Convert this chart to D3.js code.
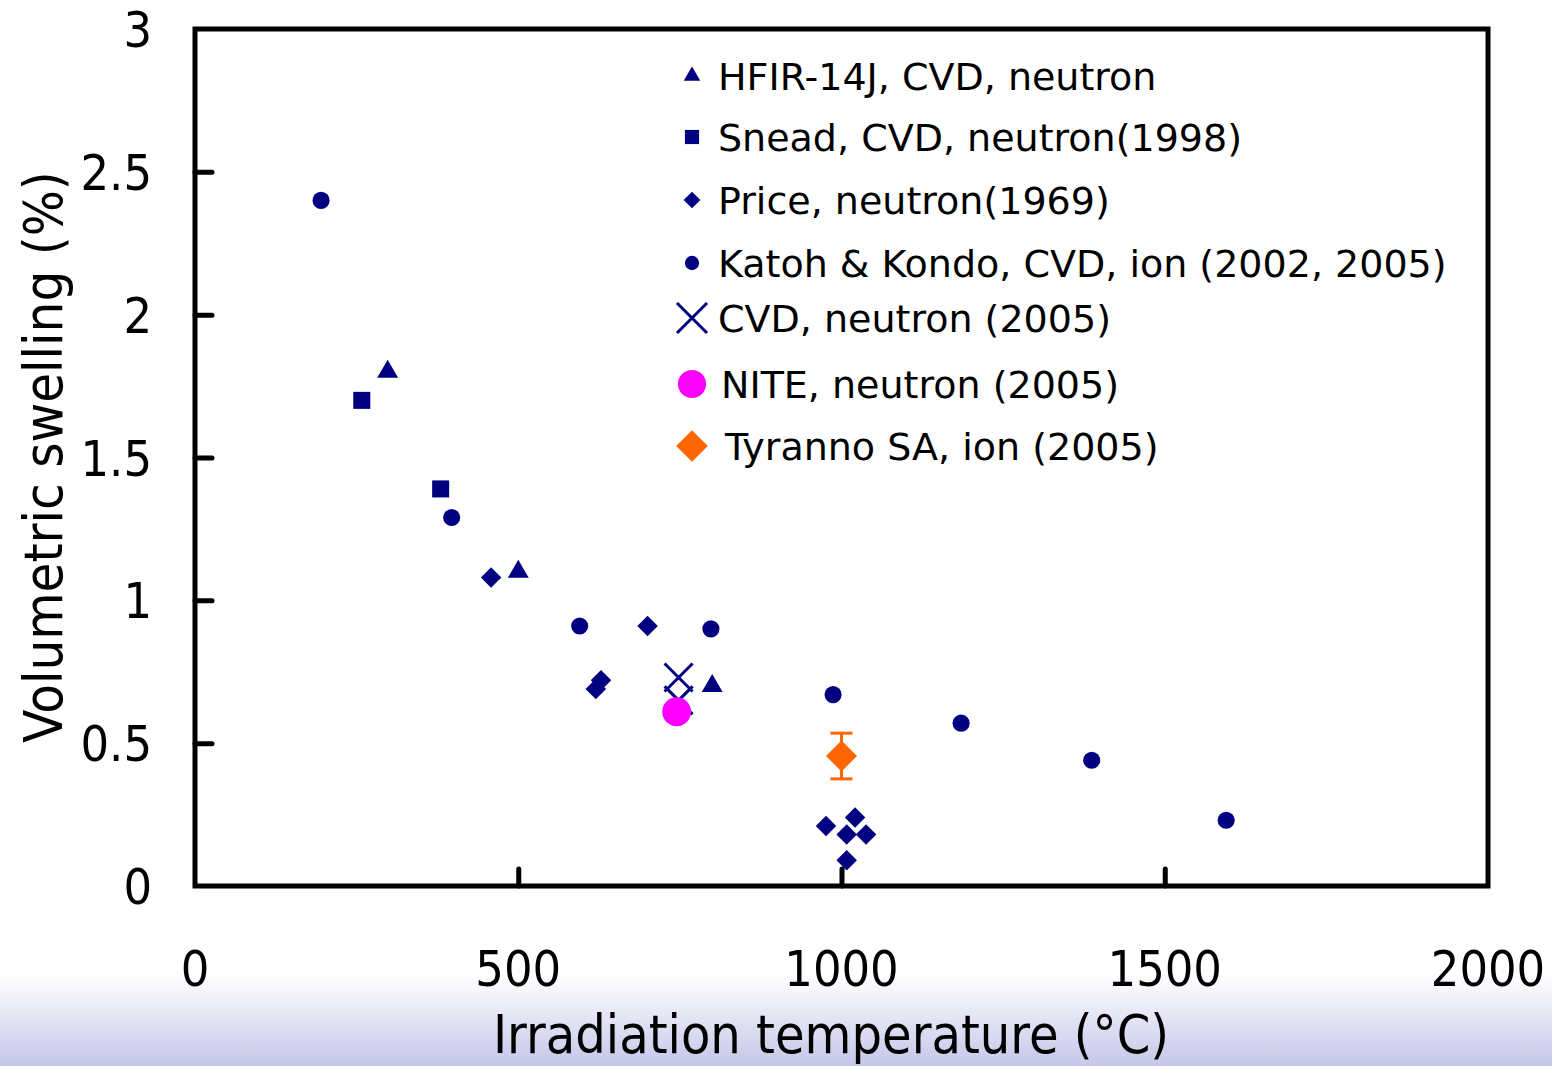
<!DOCTYPE html>
<html>
<head>
<meta charset="utf-8">
<script src="https://cdn.jsdelivr.net/npm/d3@7"></script>
<style>
  html, body { margin: 0; padding: 0; background: #fff; }
  svg text { font-family: "DejaVu Sans Condensed", "DejaVu Sans", sans-serif; fill: #000; }
  svg text.legend { font-family: "DejaVu Sans", sans-serif; }
</style>
</head>
<body>
<svg id="chart" width="1552" height="1066"></svg>
<script>
// data: [temperature (°C), swelling (%)]
const hfir = [[298, 1.80], [500, 1.10], [800, 0.70]];
const snead = [[258, 1.70], [380, 1.39]];
const price = [[458, 1.08], [620, 0.69], [628, 0.72], [700, 0.91],
               [976, 0.21], [1021, 0.24], [1008, 0.18], [1038, 0.18], [1008, 0.09]];
const katoh = [[195, 2.40], [397, 1.29], [595, 0.91], [798, 0.90], [987, 0.67],
               [1185, 0.57], [1387, 0.44], [1595, 0.23]];
const cvd2005 = [[748, 0.73], [748, 0.65]];
const nite = [[745, 0.61]];
const tyranno = [[1000, 0.455]];
const tyrannoErr = [0.08];

const xTicks = [0, 500, 1000, 1500, 2000];
const yTicks = [0, 0.5, 1, 1.5, 2, 2.5, 3];
const legendLabels = [
  "HFIR-14J, CVD, neutron",
  "Snead, CVD, neutron(1998)",
  "Price, neutron(1969)",
  "Katoh & Kondo, CVD, ion (2002, 2005)",
  "CVD, neutron (2005)",
  "NITE, neutron (2005)",
  "Tyranno SA, ion (2005)"
];

const navy = "#000080";
const svg = d3.select("#chart");

// soft lavender band at the bottom of the slide
const defs = svg.append("defs");
const grad = defs.append("linearGradient").attr("id", "bg").attr("x1", 0).attr("y1", 0).attr("x2", 0).attr("y2", 1);
grad.append("stop").attr("offset", "0%").attr("stop-color", "#ffffff");
grad.append("stop").attr("offset", "100%").attr("stop-color", "#c6c6e9");
svg.append("rect").attr("x", 0).attr("y", 975).attr("width", 1552).attr("height", 91).attr("fill", "url(#bg)");

const x = d3.scaleLinear().domain([0, 2000]).range([195, 1488]);
const y = d3.scaleLinear().domain([0, 3]).range([886, 29]);

// ticks pointing inward
svg.append("g")
  .attr("transform", `translate(0,${y(0)})`)
  .call(d3.axisTop(x).tickValues(xTicks.slice(1, -1)).tickSize(17).tickFormat(""))
  .call(g => g.select(".domain").remove())
  .call(g => g.selectAll("line").attr("stroke", "#000").attr("stroke-width", 5).attr("stroke-linecap", "round"));

svg.append("g")
  .attr("transform", `translate(${x(0)},0)`)
  .call(d3.axisRight(y).tickValues(yTicks.slice(1, -1)).tickSize(17).tickFormat(""))
  .call(g => g.select(".domain").remove())
  .call(g => g.selectAll("line").attr("stroke", "#000").attr("stroke-width", 5).attr("stroke-linecap", "round"));

// plot frame
svg.append("rect")
  .attr("x", x(0)).attr("y", y(3))
  .attr("width", x(2000) - x(0)).attr("height", y(0) - y(3))
  .attr("fill", "none").attr("stroke", "#000").attr("stroke-width", 5);

// tick labels
svg.append("g").selectAll("text")
  .data(xTicks).enter().append("text")
  .attr("x", d => x(d)).attr("y", 986)
  .attr("text-anchor", "middle")
  .style("font-size", "50px")
  .text(d => d);

svg.append("g").selectAll("text")
  .data(yTicks).enter().append("text")
  .attr("x", 152).attr("y", d => y(d) + 18)
  .attr("text-anchor", "end")
  .style("font-size", "50px")
  .text(d => d);

// axis titles
svg.append("text")
  .attr("x", 831).attr("y", 1053)
  .attr("text-anchor", "middle")
  .style("font-size", "53.5px")
  .text("Irradiation temperature (°C)");

svg.append("text")
  .attr("transform", "translate(62,457) rotate(-90)")
  .attr("text-anchor", "middle")
  .style("font-size", "54px")
  .text("Volumetric swelling (%)");

// markers
const sym = (type, size) => d3.symbol().type(type).size(size)();

function drawSeries(data, type, size, color, rotate) {
  svg.append("g").selectAll("path")
    .data(data).enter().append("path")
    .attr("d", sym(type, size))
    .attr("transform", d => `translate(${x(d[0])},${y(d[1])})` + (rotate ? " rotate(45)" : ""))
    .attr("fill", color);
}

drawSeries(hfir, d3.symbolTriangle, 190, navy);
drawSeries(snead, d3.symbolSquare, 290, navy);
drawSeries(price, d3.symbolSquare, 210, navy, true);
drawSeries(katoh, d3.symbolCircle, 230, navy);

// X markers
svg.append("g").selectAll("path")
  .data(cvd2005).enter().append("path")
  .attr("d", "M-14,-14L14,14M-14,14L14,-14")
  .attr("transform", d => `translate(${x(d[0])},${y(d[1])})`)
  .attr("stroke", navy).attr("stroke-width", 3).attr("fill", "none");

drawSeries(nite, d3.symbolCircle, 650, "#ff00ff");

// Tyranno error bars
const eb = svg.append("g").attr("stroke", "#ff6600").attr("stroke-width", 3);
tyranno.forEach((d, i) => {
  const e = tyrannoErr[i];
  eb.append("line").attr("x1", x(d[0])).attr("x2", x(d[0])).attr("y1", y(d[1] + e)).attr("y2", y(d[1] - e));
  eb.append("line").attr("x1", x(d[0]) - 11).attr("x2", x(d[0]) + 11).attr("y1", y(d[1] + e)).attr("y2", y(d[1] + e));
  eb.append("line").attr("x1", x(d[0]) - 11).attr("x2", x(d[0]) + 11).attr("y1", y(d[1] - e)).attr("y2", y(d[1] - e));
});
drawSeries(tyranno, d3.symbolSquare, 480, "#ff6600", true);

// legend
const legRows = [76, 137, 200, 263, 318, 384, 446];
const legTextX = [718, 718, 718, 718, 718, 721, 725];
const leg = svg.append("g");
const legMarks = [
  g => g.append("path").attr("d", sym(d3.symbolTriangle, 120)).attr("fill", navy),
  g => g.append("path").attr("d", sym(d3.symbolSquare, 200)).attr("fill", navy),
  g => g.append("path").attr("d", sym(d3.symbolSquare, 140)).attr("transform", "rotate(45)").attr("fill", navy),
  g => g.append("path").attr("d", sym(d3.symbolCircle, 160)).attr("fill", navy),
  g => g.append("path").attr("d", "M-15,-15L15,15M-15,15L15,-15").attr("stroke", navy).attr("stroke-width", 3).attr("fill", "none"),
  g => g.append("path").attr("d", sym(d3.symbolCircle, 620)).attr("fill", "#ff00ff"),
  g => g.append("path").attr("d", sym(d3.symbolSquare, 500)).attr("transform", "rotate(45)").attr("fill", "#ff6600")
];
legendLabels.forEach((lab, i) => {
  const g = leg.append("g").attr("transform", `translate(692,${legRows[i]})`);
  legMarks[i](g);
  leg.append("text")
    .attr("class", "legend")
    .attr("x", legTextX[i]).attr("y", legRows[i] + 14)
    .style("font-size", "38px")
    .text(lab);
});
</script>
</body>
</html>
